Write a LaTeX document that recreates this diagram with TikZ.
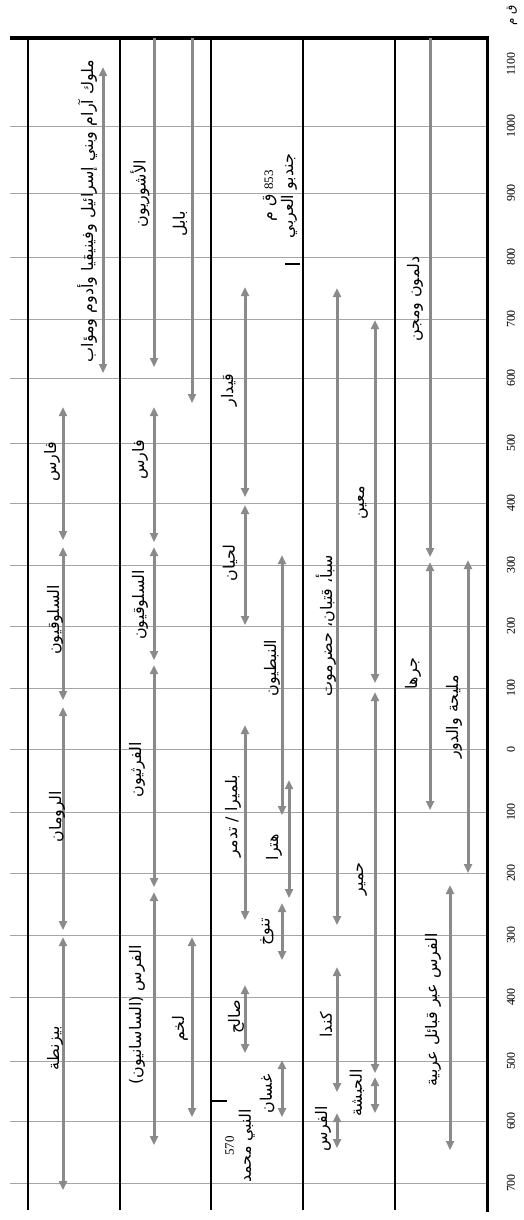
\documentclass[tikz,border=0pt]{standalone}
\usepackage{fontspec}
\setmainfont{Liberation Serif}
\newfontfamily\arabicfont[Script=Arabic]{DejaVu Sans}
\TeXXeTstate=1
\usetikzlibrary{arrows.meta}
\newcommand{\artext}[1]{{\arabicfont\beginR #1\endR}}
\definecolor{pfeilgrau}{RGB}{138,138,138}
\definecolor{gittergrau}{RGB}{165,165,165}
\begin{document}
\begin{tikzpicture}[x=1bp, y=-1bp, >={Triangle[length=9bp,width=8bp]},
  pfeil/.style={draw=pfeilgrau, line width=3bp},
  gitter/.style={draw=gittergrau, line width=0.8bp},
  spalte/.style={draw=black, line width=1.2bp},
  lbl/.style={rotate=90, inner sep=0pt, font=\fontsize{16}{19}\arabicfont},
  jahr/.style={rotate=90, inner sep=0pt, font=\fontsize{12}{14}\selectfont}]
\useasboundingbox (0,0) rectangle (524,1220);
% Raster (Jahrhunderte) und Spalten
\foreach \y in {126,193,257,319,378,443,503,565,626,688,749,812,873,935,997,1061,1121,1183}{\draw[gitter] (10,\y) -- (487,\y);}
\foreach \x in {28,120,211,303,395}{\draw[spalte] (\x,38) -- (\x,1210);}
\draw[line width=3.5bp] (10,38) -- (488.5,38);                  % Rahmen oben
\draw[line width=3bp] (487,36.25) -- (487,1212);                % Rahmen rechts
% Jahreszahlen
\foreach \y/\j [count=\i] in {64/1100,126/1000,193/900,257/800,319/700,378/600,443/500,503/400,565/300,626/200,688/100,749/0,812/100,873/200,935/300,997/400,1061/500,1121/600,1183/700}{\node[jahr] (jahr\i) at (511,\y) {\j};}
\node[lbl, font=\fontsize{12}{14}\arabicfont] (qm) at (512,15) {\artext{ق م}};
% Spalte 1
\draw[pfeil,<->] (103,67) -- (103,373);
\draw[pfeil,<->] (63,407) -- (63,540); \draw[pfeil,<->] (63,547) -- (63,700);
\draw[pfeil,<->] (63,707) -- (63,930); \draw[pfeil,<->] (63,937) -- (63,1190);
\node[lbl] (muluk) at (87,211) {\artext{ملوك آرام وبني إسرائيل وفينيقيا وأدوم ومؤاب}};
\node[lbl] (faris1) at (52,462) {\artext{فارس}};
\node[lbl] (salu1) at (55,620) {\artext{السلوقيون}};
\node[lbl] (rum) at (57,817) {\artext{الرومان}};
\node[lbl] (biz) at (55,1048) {\artext{بيزنطة}};
% Spalte 2
\draw[pfeil,->] (154,38) -- (154,367); \draw[pfeil,->] (192,38) -- (192,403);
\draw[pfeil,<->] (154,407) -- (154,542); \draw[pfeil,<->] (154,547) -- (154,660);
\draw[pfeil,<->] (154,665) -- (154,887); \draw[pfeil,<->] (154,892) -- (154,1145);
\draw[pfeil,<->] (192,937) -- (192,1117);
\node[lbl] (ashur) at (140,194) {\artext{الأشوريون}};
\node[lbl] (babil) at (180,224) {\artext{بابل}};
\node[lbl] (faris2) at (140,460) {\artext{فارس}};
\node[lbl] (salu2) at (140,605) {\artext{السلوقيون}};
\node[lbl] (farth) at (137,770) {\artext{الفرثيون}};
\node[lbl] (sasan) at (137,1015) {\artext{الفرس (الساسانيون)}};
\node[lbl] (lakhm) at (180,1029) {\artext{لخم}};
% Spalte 3
\draw[pfeil,<->] (245,287) -- (245,497); \draw[pfeil,<->] (245,505) -- (245,625);
\draw[pfeil,<->] (245,725) -- (245,920); \draw[pfeil,<->] (245,985) -- (245,1053);
\draw[pfeil,<->] (282,555) -- (282,815); \draw[pfeil,<->] (289,780) -- (289,898);
\draw[pfeil,<->] (282,903) -- (282,960); \draw[pfeil,<->] (282,1060) -- (282,1117);
\draw[line width=2bp] (285,264) -- (300,264);                   % 853 v. Chr.
\draw[line width=2bp] (212,1101) -- (227,1101);                 % 570 n. Chr.
\node[lbl] (qaidar) at (229,390) {\artext{قيدار}};
\node[lbl] (lihyan) at (230,563) {\artext{لحيان}};
\node[lbl] (tadmur) at (233,816) {\artext{بلميرا / تدمر}};
\node[lbl] (salih) at (236,1017) {\artext{صالح}};
\node[lbl] (nabat) at (272,668) {\artext{النبطيون}};
\node[lbl] (hatra) at (274,847) {\artext{هترا}};
\node[lbl] (tanukh) at (267,932) {\artext{تنوخ}};
\node[lbl] (ghassan) at (267,1094) {\artext{غسان}};
\node[lbl, align=center, font=\fontsize{16}{20}\arabicfont] (jund) at (280,196) {\artext{\beginL{\rmfamily\fontsize{13}{15}\selectfont 853}\endL{} ق م}\\\artext{جندبو العربي}};
\node[lbl, align=center, font=\fontsize{16}{17}\arabicfont] (nabi) at (240,1146) {{\rmfamily\fontsize{13}{15}\selectfont 570}\\\artext{النبي محمد}};
% Spalte 4
\draw[pfeil,<->] (337,288) -- (337,925); \draw[pfeil,<->] (337,967) -- (337,1092);
\draw[pfeil,<->] (337,1113) -- (337,1148);
\draw[pfeil,<->] (375,320) -- (375,683); \draw[pfeil,<->] (375,692) -- (375,1073);
\draw[pfeil,<->] (375,1077) -- (375,1113);
\node[lbl] (saba) at (326,626) {\artext{سبأ، قتبان، حضرموت}};
\node[lbl] (main) at (363,503) {\artext{معين}};
\node[lbl] (himyar) at (362,879) {\artext{حمير}};
\node[lbl] (kinda) at (326,1025) {\artext{كندا}};
\node[lbl] (faris4) at (323,1129) {\artext{الفرس}};
\node[lbl] (habasha) at (357,1093) {\artext{الحبشة}};
% Spalte 5
\draw[pfeil,->] (430,38) -- (430,557); \draw[pfeil,<->] (430,562) -- (430,810);
\draw[pfeil,<->] (468,560) -- (468,873); \draw[pfeil,<->] (450,885) -- (450,1150);
\node[lbl] (dilmun) at (415,299) {\artext{دلمون ومجن}};
\node[lbl] (jurha) at (413,674) {\artext{جرها}};
\node[lbl] (maliha) at (454,717) {\artext{مليحة والدور}};
\node[lbl] (qabail) at (433,1010) {\artext{الفرس عبر قبائل عربية}};
\end{tikzpicture}
\end{document}
